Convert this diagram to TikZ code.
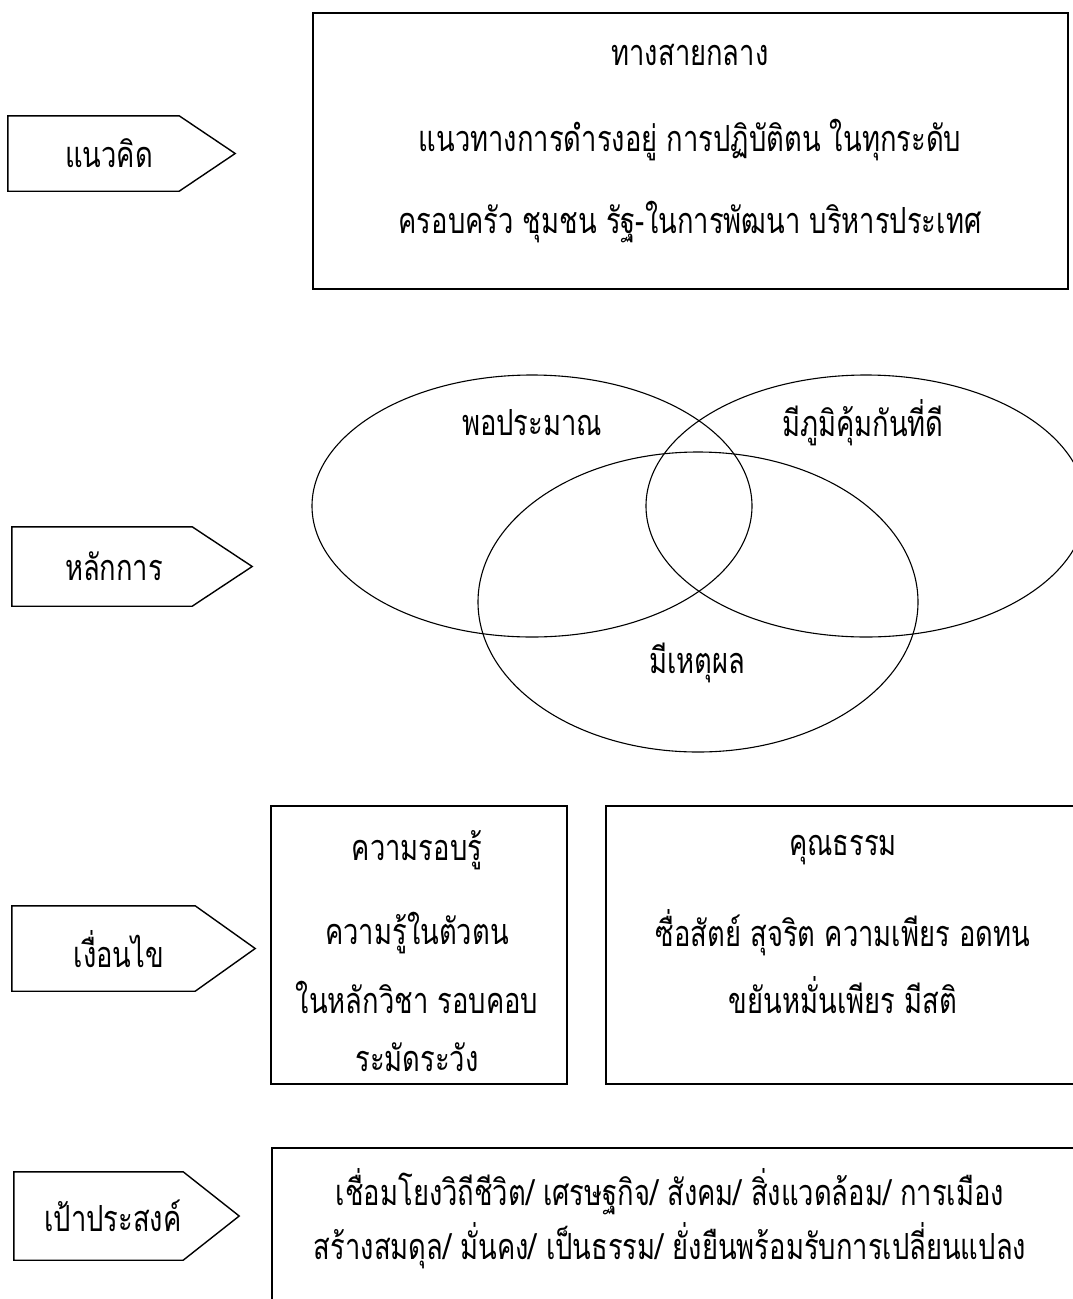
\documentclass[tikz,border=0pt]{standalone}
\usepackage{fontspec}
\newfontfamily\thaifont[Script=Thai,FakeStretch=0.76]{Loma}
\usetikzlibrary{shapes.geometric,calc,positioning}

\tikzset{
  tagbox/.style={inner sep=0pt},
  tagline/.style={line width=1.4pt, line join=miter},
  frame/.style={draw, rectangle, inner sep=0pt, line width=1.5pt},
  oval/.style={draw, ellipse, inner sep=0pt, line width=1.1pt},
  txt/.style={inner sep=0pt}
}

\begin{document}
\begin{tikzpicture}
   [x=1pt, y=-1pt, font=\thaifont\fontsize{36}{40}\selectfont]
   \useasboundingbox (0,0) rectangle (1072,1299);
   % row 1
   \node[tagbox, minimum width=171pt, minimum height=75pt] (idea) at (93.5,153.5) {};
   \draw[tagline] (idea.north west) -- (idea.north east) -- ($(idea.east)+(56,0)$) -- (idea.south east) -- (idea.south west) -- cycle;
   \node[txt] (ideaT) at (109,153) {แนวคิด};
   \node[frame, minimum width=755pt, minimum height=276pt] (way) at (690.5,151) {};
   \node[txt] (way1) at (690,55) {ทางสายกลาง};
   \node[txt] (way2) at (690,140) {แนวทางการดำรงอยู่ การปฏิบัติตน ในทุกระดับ};
   \node[txt] (way3) at (690,222) {ครอบครัว ชุมชน รัฐ-ในการพัฒนา บริหารประเทศ};
   % row 2
   \node[tagbox, minimum width=180pt, minimum height=79pt] (prin) at (102,566.5) {};
   \draw[tagline] (prin.north west) -- (prin.north east) -- ($(prin.east)+(60,0)$) -- (prin.south east) -- (prin.south west) -- cycle;
   \node[txt] (prinT) at (114,566) {หลักการ};
   \node[oval, minimum width=440pt, minimum height=262pt] (mod) at (532,506) {};
   \node[oval, minimum width=440pt, minimum height=262pt] (imm) at (866,506) {};
   \node[oval, minimum width=440pt, minimum height=300pt] (rea) at (698,602) {};
   \node[txt] (modT) at (532,423) {พอประมาณ};
   \node[txt] (immT) at (863,423) {มีภูมิคุ้มกันที่ดี};
   \node[txt] (reaT) at (697,663) {มีเหตุผล};
   % row 3
   \node[tagbox, minimum width=183pt, minimum height=85pt] (cond) at (103.5,948.5) {};
   \draw[tagline] (cond.north west) -- (cond.north east) -- ($(cond.east)+(60,0)$) -- (cond.south east) -- (cond.south west) -- cycle;
   \node[txt] (condT) at (119,949) {เงื่อนไข};
   \node[frame, minimum width=296pt, minimum height=278pt] (know) at (419,945) {};
   \node[txt] (know1) at (417,850) {ความรอบรู้};
   \node[txt] (know2) at (417,933) {ความรู้ในตัวตน};
   \node[txt] (know3) at (417,997) {ในหลักวิชา รอบคอบ};
   \node[txt] (know4) at (417,1057) {ระมัดระวัง};
   \node[frame, minimum width=474pt, minimum height=278pt] (moral) at (843,945) {};
   \node[txt] (moral1) at (843,850) {คุณธรรม};
   \node[txt] (moral2) at (843,933) {ซื่อสัตย์ สุจริต ความเพียร อดทน};
   \node[txt] (moral3) at (843,995) {ขยันหมั่นเพียร มีสติ};
   % row 4
   \node[tagbox, minimum width=169pt, minimum height=88pt] (goal) at (98.5,1216) {};
   \draw[tagline] (goal.north west) -- (goal.north east) -- ($(goal.east)+(56,0)$) -- (goal.south east) -- (goal.south west) -- cycle;
   \node[txt] (goalT) at (113,1216) {เป้าประสงค์};
   \node[frame, minimum width=808pt, minimum height=170pt] (aim) at (676,1233) {};
   \node[txt] (aim1) at (670,1192) {เชื่อมโยงวิถีชีวิต/ เศรษฐกิจ/ สังคม/ สิ่งแวดล้อม/ การเมือง};
   \node[txt] (aim2) at (670,1246) {สร้างสมดุล/ มั่นคง/ เป็นธรรม/ ยั่งยืนพร้อมรับการเปลี่ยนแปลง};
\end{tikzpicture}
\end{document}
